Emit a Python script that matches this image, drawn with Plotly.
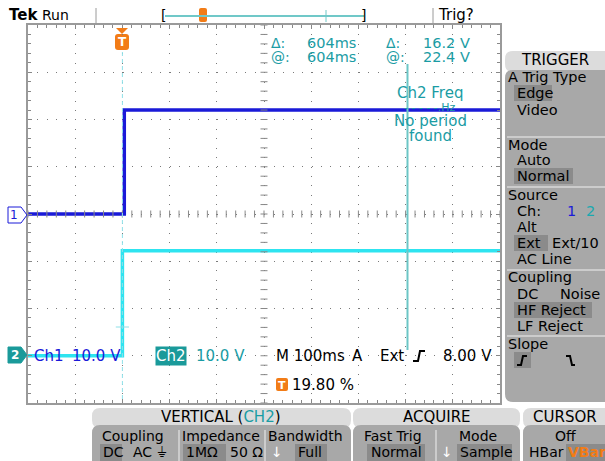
import plotly.graph_objects as go

W, H = 605, 461

# ---- data ----
ch1_t = [-0.2, 0.004, 0.004, 0.8]        # s
ch1_v = [0.0, 0.0, 22.0, 22.0]            # V
ch2_t = [-0.2, 0.0, 0.0, 0.8]
ch2_v = [0.0, 0.0, 22.2, 22.2]
ch1_scale, ch2_scale = 10.0, 10.0         # V/div
ch1_pos, ch2_pos = 0.0, -3.0              # div
cursor_t = [0.0, 0.604]                   # s
meas_left = ["Δ:", "@:"]
meas_time = ["604ms", "604ms"]
meas_volt = ["16.2 V", "22.4 V"]

def X(px): return px / W
def Y(py): return 1 - py / H

FONT = "DejaVu Sans"
BLUE = "#1a1ad8"
CYAN = "#2ee4f0"
TEAL = "#1a9ca4"
ORANGE = "#f27c17"
GRAY_BORDER = "#9a9a9a"
PANEL = "#a8a8a8"
HEAD = "#dcdcdc"
HIL = "#8b8b8b"

fig = go.Figure()
fig.add_trace(go.Scatter(x=ch2_t, y=[v / ch2_scale + ch2_pos for v in ch2_v],
                         mode="lines", line=dict(color=CYAN, width=3.5), hoverinfo="skip"))
fig.add_trace(go.Scatter(x=ch1_t, y=[v / ch1_scale + ch1_pos for v in ch1_v],
                         mode="lines", line=dict(color=BLUE, width=3.5), hoverinfo="skip"))

# center-line minor ticks
minor_x = [-0.2 + i * 0.02 for i in range(51)]
minor_y = [-4 + i * 0.2 for i in range(41)]
fig.add_trace(go.Scatter(x=minor_x, y=[0] * len(minor_x), mode="markers",
                         marker=dict(symbol="line-ns", size=5, line=dict(color="#888", width=1)),
                         hoverinfo="skip"))
fig.add_trace(go.Scatter(x=[0.3] * len(minor_y), y=minor_y, mode="markers",
                         marker=dict(symbol="line-ew", size=5, line=dict(color="#888", width=1)),
                         hoverinfo="skip"))

shapes = []
ann = []

def rrect(x0, y0, x1, y1, r, fill, line=None):
    p = (f"M {X(x0+r)},{Y(y0)} L {X(x1-r)},{Y(y0)} Q {X(x1)},{Y(y0)} {X(x1)},{Y(y0+r)} "
         f"L {X(x1)},{Y(y1-r)} Q {X(x1)},{Y(y1)} {X(x1-r)},{Y(y1)} L {X(x0+r)},{Y(y1)} "
         f"Q {X(x0)},{Y(y1)} {X(x0)},{Y(y1-r)} L {X(x0)},{Y(y0+r)} Q {X(x0)},{Y(y0)} {X(x0+r)},{Y(y0)} Z")
    shapes.append(dict(type="path", path=p, xref="paper", yref="paper", fillcolor=fill,
                       line=dict(width=0 if line is None else 1, color=line or fill), layer="below"))

def rect(x0, y0, x1, y1, fill):
    shapes.append(dict(type="rect", xref="paper", yref="paper", x0=X(x0), x1=X(x1), y0=Y(y1), y1=Y(y0),
                       fillcolor=fill, line=dict(width=0), layer="below"))

def line(x0, y0, x1, y1, color, width=1, dash=None):
    d = dict(type="line", xref="paper", yref="paper", x0=X(x0), x1=X(x1), y0=Y(y0), y1=Y(y1),
             line=dict(color=color, width=width))
    if dash: d["line"]["dash"] = dash
    shapes.append(d)

def text(x, y, s, color="black", size=13, anchor="left", bold=False, bg=None, family=FONT):
    if bold: s = f"<b>{s}</b>"
    a = dict(x=X(x), y=Y(y), xref="paper", yref="paper", text=s, showarrow=False,
             xanchor=anchor, yanchor="middle", font=dict(family=family, size=size, color=color),
             borderpad=0)
    if bg: a.update(bgcolor=bg)
    ann.append(a)

# ---- top bar ----
text(8, 15, "Tek", size=15, bold=True)
text(41, 15, "Run", size=14)
line(96, 8, 96, 25, GRAY_BORDER, 1)
line(433, 8, 433, 25, GRAY_BORDER, 1)
text(437, 15, "Trig?", size=15)
text(160, 15, "[", size=14)
text(360, 15, "]", size=14)
line(165, 16, 364, 16, "#70c8c8", 2)
line(326, 10, 326, 22, "#70c8c8", 1)
rrect(199, 8, 207, 22, 2, ORANGE)

# ---- trigger marker on graticule ----
shapes.append(dict(type="path", xref="paper", yref="paper", fillcolor=ORANGE, line=dict(width=0),
                   path=f"M {X(116)},{Y(28)} L {X(128)},{Y(28)} L {X(122)},{Y(34)} Z"))
rrect(115, 34, 129, 50, 3, ORANGE)
text(122, 42, "T", color="white", size=12, anchor="center", bold=True)

# ---- cursors ----
shapes.append(dict(type="line", xref="x", yref="paper", x0=cursor_t[0], x1=cursor_t[0],
                   y0=Y(52), y1=Y(400), line=dict(color="#8ee0e8", width=1, dash="4px,3px")))
shapes.append(dict(type="line", xref="x", yref="paper", x0=cursor_t[1], x1=cursor_t[1],
                   y0=Y(64), y1=Y(350), line=dict(color="#6cc6c6", width=2)))
shapes.append(dict(type="line", xref="x", yref="paper", x0=cursor_t[0] - 0.014, x1=cursor_t[0] + 0.014,
                   y0=Y(327), y1=Y(327), line=dict(color="#8ee0e8", width=1)))

# ---- measurement readouts ----
for i, yy in enumerate([43, 57]):
    text(270, yy, meas_left[i], TEAL, 14)
    text(306, yy, meas_time[i], TEAL, 14.5)
    text(385, yy, meas_left[i], TEAL, 14)
    text(471, yy, meas_volt[i], TEAL, 14.5, anchor="right")
text(430, 93, "Ch2 Freq", TEAL, 15, anchor="center")
text(430, 107, "- - - - -.Hz", TEAL, 11, anchor="center")
text(430, 121, "No period", TEAL, 15, anchor="center")
text(430, 136, "found", TEAL, 15, anchor="center")

# ---- channel markers ----
shapes.append(dict(type="path", xref="paper", yref="paper", fillcolor="white", line=dict(color=BLUE, width=1),
                   path=f"M {X(8)},{Y(207)} L {X(21)},{Y(207)} L {X(27)},{Y(215)} L {X(21)},{Y(223)} L {X(8)},{Y(223)} Z"))
text(14, 215, "1", BLUE, 12, anchor="center")
shapes.append(dict(type="path", xref="paper", yref="paper", fillcolor="#1a9a9a", line=dict(color="#1a9a9a", width=1),
                   path=f"M {X(8)},{Y(347)} L {X(21)},{Y(347)} L {X(27)},{Y(355)} L {X(21)},{Y(363)} L {X(8)},{Y(363)} Z"))
text(15, 355, "2", "white", 12, anchor="center", bold=True)

# ---- bottom readout ----
text(33, 356, "Ch1", BLUE, 15)
text(122, 356, "10.0 V", BLUE, 15, anchor="right")
text(155, 356, "Ch2", "white", 15, bg="#1a9a9a")
text(246, 356, "10.0 V", TEAL, 15, anchor="right")
text(275, 356, "M 100ms", "black", 15)
text(351, 356, "A", "black", 15)
text(379, 356, "Ext", "black", 15)
text(493, 356, "8.00 V", "black", 15, anchor="right")
shapes.append(dict(type="path", xref="paper", yref="paper", line=dict(color="black", width=2),
                   path=f"M {X(413)},{Y(361)} L {X(418)},{Y(361)} L {X(420)},{Y(351)} L {X(425)},{Y(351)}"))
rrect(276, 378, 288, 391, 2, ORANGE)
text(282, 385, "T", "white", 11, anchor="center", bold=True)
text(291, 385, "19.80 %", "black", 15)

# ---- right TRIGGER menu ----
rrect(505, 51, 612, 72, 8, HEAD)
rrect(505, 70, 612, 402, 8, PANEL)
for (x0, y0, x1, y1) in [(514, 85, 552, 101), (514, 168, 573, 184), (514, 235, 548, 251),
                         (514, 302, 592, 318), (514, 352, 531, 368)]:
    rect(x0, y0, x1, y1, HIL)
for yy in [137, 187, 270, 336]:
    line(507, yy, 605, yy, "#d8d8d8", 1.5)
text(555, 60, "TRIGGER", "black", 15, anchor="center")
menu = [(507, 77, "A Trig Type"), (516, 93, "Edge"), (516, 110, "Video"),
        (507, 145, "Mode"), (516, 160, "Auto"), (516, 176, "Normal"),
        (507, 195, "Source"), (516, 211, "Ch:"), (516, 227, "Alt"),
        (516, 243, "Ext"), (551, 243, "Ext/10"), (516, 259, "AC Line"),
        (507, 277, "Coupling"), (516, 294, "DC"), (559, 294, "Noise"),
        (516, 310, "HF Reject"), (516, 326, "LF Reject"), (507, 344, "Slope")]
for x, y, s in menu:
    text(x, y, s, "black", 14.5)
text(566, 211, "1", "#1a1ad8", 14.5)
text(585, 211, "2", "#1aa8b0", 14.5)
shapes.append(dict(type="path", xref="paper", yref="paper", line=dict(color="black", width=2),
                   path=f"M {X(517)},{Y(365)} L {X(521)},{Y(365)} L {X(523)},{Y(356)} L {X(527)},{Y(356)}"))
shapes.append(dict(type="path", xref="paper", yref="paper", line=dict(color="black", width=2),
                   path=f"M {X(566)},{Y(356)} L {X(570)},{Y(356)} L {X(572)},{Y(365)} L {X(575)},{Y(365)}"))

# ---- bottom menus ----
rrect(92, 408, 351, 428, 8, HEAD); rrect(92, 425, 351, 470, 8, PANEL)
rrect(353, 408, 520, 428, 8, HEAD); rrect(353, 425, 520, 470, 8, PANEL)
rrect(523, 408, 612, 428, 8, HEAD); rrect(523, 425, 612, 470, 8, PANEL)
text(221, 417, "VERTICAL (<span style='color:#1a9ca4'>CH2</span>)", "black", 15, anchor="center")
text(437, 417, "ACQUIRE", "black", 15, anchor="center")
text(565, 417, "CURSOR", "black", 15, anchor="center")
for (x0, x1) in [(100, 122), (183, 226), (295, 327), (367, 425), (457, 512), (566, 605)]:
    rect(x0, 444, x1, 461, HIL)
for xx in [179, 265, 436]:
    line(xx, 430, xx, 461, "#d8d8d8", 1.5)
BS = 14
text(101, 436, "Coupling", "black", BS)
text(102, 452, "DC", "black", BS)
text(132, 452, "AC ⏚", "black", BS)
text(181, 436, "Impedance", "black", BS)
text(185, 452, "1MΩ", "black", BS)
text(229, 452, "50 Ω", "black", BS)
text(267, 436, "Bandwidth", "black", BS)
text(270, 452, "↓", "white", BS)
text(297, 452, "Full", "black", BS)
text(363, 436, "Fast Trig", "black", BS)
text(370, 452, "Normal", "black", BS)
text(478, 436, "Mode", "black", BS, anchor="center")
text(440, 452, "↓", "white", BS)
text(459, 452, "Sample", "black", BS)
text(565, 436, "Off", "black", BS, anchor="center")
text(528, 452, "HBar", "black", BS)
text(567, 452, "VBar", ORANGE, BS, bold=True)

fig.update_layout(
    width=W, height=H, margin=dict(l=0, r=0, t=0, b=0),
    paper_bgcolor="white", plot_bgcolor="white", showlegend=False,
    shapes=shapes, annotations=ann,
    xaxis=dict(domain=[X(28), X(500)], range=[-0.2, 0.8], dtick=0.1, tick0=0,
               showgrid=True, gridcolor="#7a7a7a", griddash="1px,8.44px", gridwidth=1,
               zeroline=False, showticklabels=False, ticks="inside", ticklen=4, tickcolor="#888",
               minor=dict(dtick=0.02, ticks="inside", ticklen=3, tickcolor="#888", showgrid=False),
               showline=True, linecolor=GRAY_BORDER, linewidth=2, mirror="allticks", fixedrange=True),
    yaxis=dict(domain=[Y(403), Y(25)], range=[-4, 4], dtick=1, tick0=0,
               showgrid=True, gridcolor="#7a7a7a", griddash="1px,8.45px", gridwidth=1,
               zeroline=False, showticklabels=False, ticks="inside", ticklen=4, tickcolor="#888",
               minor=dict(dtick=0.2, ticks="inside", ticklen=3, tickcolor="#888", showgrid=False),
               showline=True, linecolor=GRAY_BORDER, linewidth=2, mirror="allticks", fixedrange=True),
)
fig.write_html("out.html", config={"displayModeBar": False},
               post_script="document.body.style.margin='0px';document.body.style.overflow='hidden';")
